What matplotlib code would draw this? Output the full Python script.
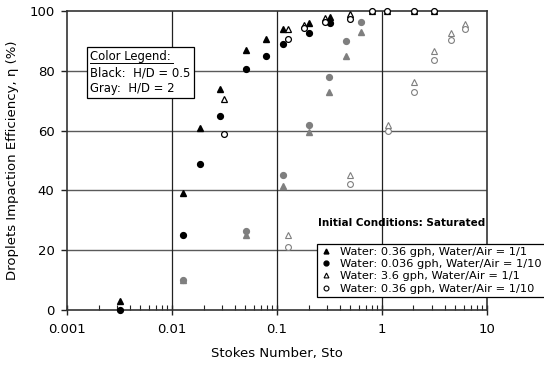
import matplotlib
matplotlib.use("Agg")
import matplotlib.pyplot as plt
from matplotlib.lines import Line2D
from matplotlib.ticker import LogLocator, NullFormatter

plt.rcParams['font.family'] = ['DejaVu Sans']

# H/D = 0.5 (black), filled symbols
sto_black_filled = [0.0032, 0.0127, 0.0184, 0.0285, 0.051, 0.079, 0.114, 0.2, 0.32]
eta_tri_black = [3, 39, 61, 74, 87, 90.5, 94, 96, 98]
eta_circ_black = [0, 25, 49, 65, 80.5, 85, 89, 92.5, 96]

# H/D = 0.5 (black), open symbols
sto_black_open = [0.0316, 0.127, 0.182, 0.29, 0.5, 0.8, 1.12, 2.02, 3.15]
eta_otri_black = [70.5, 94, 95.2, 97.6, 99, 100, 100, 100, 100]
eta_ocirc_black = [59, 90.5, 94.3, 96.5, 97.5, 100, 100, 100, 100]

# H/D = 2 (gray), filled symbols
sto_gray_filled = [0.0128, 0.051, 0.115, 0.2, 0.315, 0.454, 0.627]
eta_tri_gray = [10, 25, 41.5, 59.5, 73, 85, 93]
eta_circ_gray = [10, 26.3, 45, 62, 78, 90, 96.4]

# H/D = 2 (gray), open symbols
sto_gray_open = [0.127, 0.5, 1.15, 2.02, 3.15, 4.54, 6.22]
eta_otri_gray = [25, 45, 62, 76.4, 86.5, 92.8, 95.6]
eta_ocirc_gray = [21, 42.3, 60, 72.8, 83.7, 90.3, 94]

legend_labels = ["Water: 0.36 gph, Water/Air = 1/1",
                 "Water: 0.036 gph, Water/Air = 1/10",
                 "Water: 3.6 gph, Water/Air = 1/1",
                 "Water: 0.36 gph, Water/Air = 1/10"]

black = "black"
gray = "#7f7f7f"

fig = plt.figure(figsize=(5.44, 3.69), dpi=100)
ax = fig.add_axes([0.123, 0.160, 0.772, 0.810])

ms = 4.2
ax.plot(sto_black_filled, eta_tri_black, '^', color=black, ms=ms, ls='none', clip_on=False, zorder=4)
ax.plot(sto_black_filled, eta_circ_black, 'o', color=black, ms=ms, ls='none', clip_on=False, zorder=4)
ax.plot(sto_black_open, eta_otri_black, '^', mfc='white', mec=black, mew=0.9, ms=ms, ls='none', clip_on=False, zorder=4)
ax.plot(sto_black_open, eta_ocirc_black, 'o', mfc='white', mec=black, mew=0.9, ms=ms, ls='none', clip_on=False, zorder=4)
ax.plot(sto_gray_filled, eta_tri_gray, '^', color=gray, ms=ms, ls='none', zorder=3)
ax.plot(sto_gray_filled, eta_circ_gray, 'o', color=gray, ms=ms, ls='none', zorder=3)
ax.plot(sto_gray_open, eta_otri_gray, '^', mfc='white', mec=gray, mew=0.8, ms=ms, ls='none', zorder=3)
ax.plot(sto_gray_open, eta_ocirc_gray, 'o', mfc='white', mec=gray, mew=0.8, ms=ms, ls='none', zorder=3)

ax.set_xscale('log')
ax.set_xlim(0.001, 10)
ax.set_ylim(0, 100)
ax.set_xticks([0.001, 0.01, 0.1, 1, 10])
ax.set_xticklabels(["0.001", "0.01", "0.1", "1", "10"])
ax.xaxis.set_minor_locator(LogLocator(base=10, subs=range(2, 10)))
ax.xaxis.set_minor_formatter(NullFormatter())
ax.set_yticks([0, 20, 40, 60, 80, 100])

ax.tick_params(axis='x', which='major', direction='inout', length=7, width=1, labelsize=9.5, pad=6, colors='#222')
ax.tick_params(axis='x', which='minor', direction='in', length=3.5, width=0.8, colors='#222')
ax.tick_params(axis='y', which='major', direction='out', length=4, width=1, labelsize=9.5, pad=5, colors='#222')
ax.tick_params(axis='both', labelcolor='black')

# grid lines at the decades and every 20 %
for v in [20, 40, 60, 80]:
    ax.axhline(v, color='#5a5a5a', lw=1.0, zorder=1)
for v in [0.01, 0.1, 1]:
    ax.axvline(v, color='#222', lw=0.9, zorder=1)

for s in ax.spines.values():
    s.set_linewidth(1.2)
    s.set_color('#333')

ax.set_xlabel("Stokes Number, Sto", fontsize=9.5, labelpad=8)
ax.set_ylabel("Droplets Impaction Efficiency, η (%)", fontsize=9.5, labelpad=7)

# colour note box
note_x, note_top = 0.166, 0.864
fig.text(note_x, note_top, "Color Legend:\nBlack:  H/D = 0.5\nGray:  H/D = 2",
         fontsize=8.4, va='top', ha='left', linespacing=1.3,
         bbox=dict(boxstyle='square,pad=0.25', fc='white', ec='black', lw=0.9))
# underline under "Color Legend:"
ul_y = note_top - 12.5 / 369
fig.add_artist(Line2D([note_x, note_x + 83 / 544], [ul_y, ul_y], color='black',
                      lw=0.7, transform=fig.transFigure, zorder=10))

fig.text(0.892, 0.395, "Initial Conditions: Saturated", fontsize=7.5, fontweight='bold',
         ha='right', va='center')

handles = [
    Line2D([], [], marker='^', ls='none', color=black, ms=3.5),
    Line2D([], [], marker='o', ls='none', color=black, ms=3.5),
    Line2D([], [], marker='^', ls='none', mfc='white', mec=black, mew=0.8, ms=3.5),
    Line2D([], [], marker='o', ls='none', mfc='white', mec=black, mew=0.8, ms=3.5),
]
leg = fig.legend(handles, legend_labels, loc='upper left',
                 bbox_to_anchor=(317 / 544, 1 - 244 / 369), fontsize=8.2,
                 frameon=True, fancybox=False, edgecolor='black', framealpha=1,
                 handlelength=1.0, handletextpad=0.8, labelspacing=0.2,
                 borderpad=0.25, borderaxespad=0)
leg.get_frame().set_linewidth(0.9)

fig.savefig("out.png", dpi=100)
